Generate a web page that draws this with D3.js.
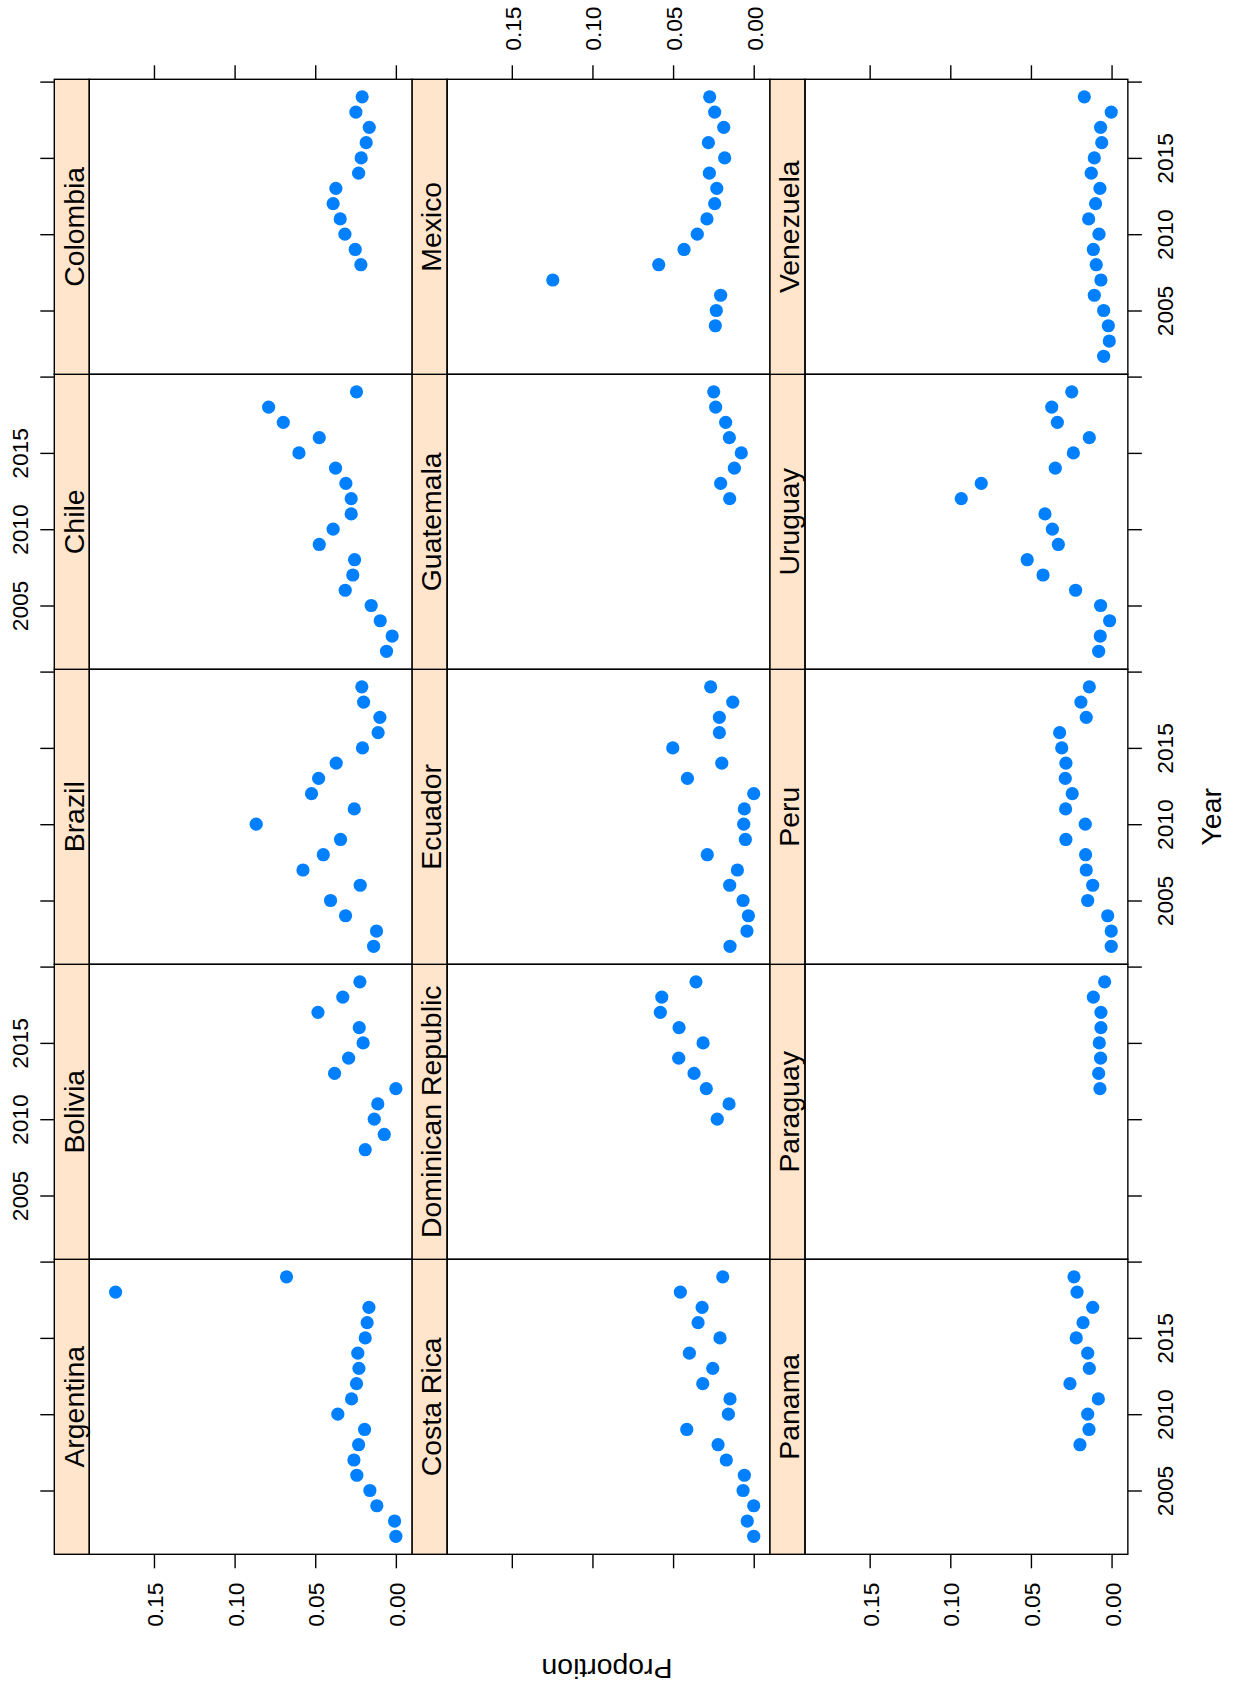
<!DOCTYPE html>
<html>
<head>
<meta charset="utf-8">
<script src="https://cdn.jsdelivr.net/npm/d3@7"></script>
<style>
  body { margin: 0; background: #fff; }
  svg { display: block; }
  text { font-family: "Liberation Sans", Arial, Helvetica, sans-serif; fill: #000; }
</style>
</head>
<body>
<svg id="chart" width="1235" height="1686"></svg>
<script>
// Proportion per country and year (each series runs from its first year to 2019)
const countries = ["Argentina", "Bolivia", "Brazil", "Chile", "Colombia",
  "Costa Rica", "Dominican Republic", "Ecuador", "Guatemala", "Mexico",
  "Panama", "Paraguay", "Peru", "Uruguay", "Venezuela"];
const firstYear = [2002, 2008, 2002, 2002, 2008, 2002, 2010, 2002, 2012, 2004, 2008, 2012, 2002, 2002, 2002];

const argentina = [0.0000, 0.0008, 0.0118, 0.0161, 0.0242, 0.0260, 0.0231, 0.0194, 0.0360, 0.0275, 0.0244, 0.0229, 0.0236, 0.0190, 0.0178, 0.0167, 0.1738, 0.0678];
const bolivia = [0.0190, 0.0072, 0.0134, 0.0112, 0.0000, 0.0380, 0.0293, 0.0203, 0.0227, 0.0483, 0.0329, 0.0223];
const brazil = [0.0138, 0.0120, 0.0312, 0.0405, 0.0221, 0.0576, 0.0450, 0.0343, 0.0866, 0.0258, 0.0523, 0.0479, 0.0370, 0.0207, 0.0110, 0.0099, 0.0200, 0.0211];
const chile = [0.0058, 0.0023, 0.0097, 0.0153, 0.0314, 0.0267, 0.0256, 0.0475, 0.0389, 0.0277, 0.0277, 0.0310, 0.0374, 0.0601, 0.0475, 0.0698, 0.0789, 0.0244];
const colombia = [0.0217, 0.0252, 0.0316, 0.0345, 0.0389, 0.0372, 0.0231, 0.0215, 0.0184, 0.0165, 0.0248, 0.0209];
const costaRica = [0.0000, 0.0040, 0.0000, 0.0066, 0.0058, 0.0170, 0.0221, 0.0415, 0.0157, 0.0147, 0.0316, 0.0254, 0.0399, 0.0209, 0.0345, 0.0320, 0.0455, 0.0192];
const dominicanRepublic = [0.0226, 0.0153, 0.0294, 0.0370, 0.0465, 0.0314, 0.0463, 0.0579, 0.0570, 0.0358];
const ecuador = [0.0147, 0.0042, 0.0033, 0.0066, 0.0149, 0.0101, 0.0288, 0.0052, 0.0062, 0.0058, 0.0000, 0.0411, 0.0198, 0.0502, 0.0213, 0.0213, 0.0130, 0.0267];
const guatemala = [0.0149, 0.0205, 0.0120, 0.0077, 0.0151, 0.0174, 0.0236, 0.0248];
const mexico = [0.0238, 0.0232, 0.0205, 0.1246, 0.0589, 0.0432, 0.0350, 0.0290, 0.0242, 0.0229, 0.0275, 0.0180, 0.0281, 0.0186, 0.0242, 0.0273];
const panama = [0.0196, 0.0140, 0.0148, 0.0082, 0.0258, 0.0138, 0.0148, 0.0219, 0.0177, 0.0117, 0.0214, 0.0233];
const paraguay = [0.0072, 0.0080, 0.0068, 0.0076, 0.0066, 0.0066, 0.0113, 0.0043];
const peru = [0.0002, 0.0002, 0.0024, 0.0148, 0.0117, 0.0157, 0.0161, 0.0283, 0.0163, 0.0285, 0.0244, 0.0287, 0.0283, 0.0309, 0.0322, 0.0157, 0.0190, 0.0138];
const uruguay = [0.0080, 0.0070, 0.0012, 0.0068, 0.0223, 0.0425, 0.0523, 0.0330, 0.0367, 0.0413, 0.0932, 0.0808, 0.0349, 0.0237, 0.0138, 0.0336, 0.0371, 0.0247];
const venezuela = [0.0049, 0.0014, 0.0020, 0.0049, 0.0107, 0.0066, 0.0095, 0.0113, 0.0078, 0.0142, 0.0099, 0.0072, 0.0126, 0.0107, 0.0061, 0.0068, 0.0002, 0.0169];

const seriesValues = [argentina, bolivia, brazil, chile, colombia, costaRica, dominicanRepublic,
  ecuador, guatemala, mexico, panama, paraguay, peru, uruguay, venezuela];

const yearTicks = [2005, 2010, 2015, 2020];
const yearTickLabels = ["2005", "2010", "2015", ""];
const propTicks = [0, 0.05, 0.10, 0.15];
const propTickLabels = ["0.00", "0.05", "0.10", "0.15"];
const yearLimits = [2000.82, 2020.15];
const propLimits = [-0.0101, 0.1901];

// ---- layout: the lattice is turned a quarter turn, strips sit on the left of each panel
const svg = d3.select("#chart");
const gridLeft = 54.3, gridTop = 79.3;
const colW = 357.85, rowH = 295, stripW = 35;
const nCols = 3, nRows = 5;
const tickLen = 14;
const baseFont = 28.4, tickFont = 22.7;
const lineW = 1.4;
const dotColor = "#0080ff", stripFill = "#ffe5cc";

function panelPos(i) {
  const col = Math.floor(i / nRows);
  const row = nRows - 1 - (i % nRows);
  return { col, row, L: gridLeft + col * colW, T: gridTop + row * rowH };
}
function xScaleFor(L) {
  return d3.scaleLinear().domain(propLimits).range([L + colW, L + stripW]);
}
function yScaleFor(T) {
  return d3.scaleLinear().domain(yearLimits).range([T + rowH, T]);
}

const panels = svg.append("g").attr("class", "panels");

countries.forEach((name, i) => {
  const { L, T } = panelPos(i);
  const x = xScaleFor(L), y = yScaleFor(T);
  const g = panels.append("g").attr("class", "panel");

  const pts = seriesValues[i].map((v, k) => ({ year: firstYear[i] + k, value: v }));
  g.selectAll("circle").data(pts).join("circle")
    .attr("cx", d => x(d.value))
    .attr("cy", d => y(d.year))
    .attr("r", 6.6)
    .attr("fill", dotColor);

  // strip
  g.append("rect")
    .attr("x", L).attr("y", T).attr("width", stripW).attr("height", rowH)
    .attr("fill", stripFill).attr("stroke", "#000").attr("stroke-width", lineW);
  g.append("text")
    .attr("transform", `translate(${L + 29.2},${T + rowH / 2}) rotate(-90)`)
    .attr("text-anchor", "middle")
    .attr("font-size", baseFont)
    .text(name);

  // panel border
  g.append("rect")
    .attr("x", L + stripW).attr("y", T).attr("width", colW - stripW).attr("height", rowH)
    .attr("fill", "none").attr("stroke", "#000").attr("stroke-width", lineW);
});

// ---- axes
function styleAxis(g) {
  g.select(".domain").remove();
  g.selectAll(".tick line").attr("stroke", "#000").attr("stroke-width", lineW);
  g.selectAll(".tick text").attr("font-size", tickFont).attr("fill", "#000")
    .attr("font-family", '"Liberation Sans", Arial, Helvetica, sans-serif')
    .attr("x", null).attr("y", null).attr("dy", null);
}

const axes = svg.append("g").attr("class", "axes");

for (let row = 0; row < nRows; row++) {
  const T = gridTop + row * rowH;
  const y = yScaleFor(T);
  const labelled = (nRows - 1 - row) % 2;   // 1 → year labels on the left, 0 → on the right

  const gl = axes.append("g").attr("transform", `translate(${gridLeft},0)`)
    .call(d3.axisLeft(y).tickValues(yearTicks).tickSize(tickLen)
      .tickFormat((d, k) => labelled === 1 ? yearTickLabels[k] : ""));
  styleAxis(gl);
  gl.selectAll(".tick text")
    .attr("text-anchor", "middle")
    .attr("transform", "translate(-26,0) rotate(-90)");

  const right = gridLeft + nCols * colW;
  const gr = axes.append("g").attr("transform", `translate(${right},0)`)
    .call(d3.axisRight(y).tickValues(yearTicks).tickSize(tickLen)
      .tickFormat((d, k) => labelled === 0 ? yearTickLabels[k] : ""));
  styleAxis(gr);
  gr.selectAll(".tick text")
    .attr("text-anchor", "middle")
    .attr("transform", "translate(45,0) rotate(-90)");
}

for (let col = 0; col < nCols; col++) {
  const L = gridLeft + col * colW;
  const x = xScaleFor(L);
  const topLabelled = col % 2 === 1;

  const gt = axes.append("g").attr("transform", `translate(0,${gridTop})`)
    .call(d3.axisTop(x).tickValues(propTicks).tickSize(tickLen)
      .tickFormat((d, k) => topLabelled ? propTickLabels[k] : ""));
  styleAxis(gt);
  gt.selectAll(".tick text")
    .attr("text-anchor", "start")
    .attr("transform", "translate(8.5,-28.6) rotate(-90)");

  const bottom = gridTop + nRows * rowH;
  const gb = axes.append("g").attr("transform", `translate(0,${bottom})`)
    .call(d3.axisBottom(x).tickValues(propTicks).tickSize(tickLen)
      .tickFormat((d, k) => topLabelled ? "" : propTickLabels[k]));
  styleAxis(gb);
  gb.selectAll(".tick text")
    .attr("text-anchor", "end")
    .attr("transform", "translate(8.5,28.4) rotate(-90)");
}

// ---- axis titles
svg.append("text")
  .attr("transform", `translate(1221,${gridTop + nRows * rowH / 2}) rotate(-90)`)
  .attr("text-anchor", "middle")
  .attr("font-size", baseFont)
  .text("Year");

svg.append("text")
  .attr("transform", "translate(607,1659) rotate(180)")
  .attr("text-anchor", "middle")
  .attr("font-size", baseFont)
  .text("Proportion");
</script>
</body>
</html>
